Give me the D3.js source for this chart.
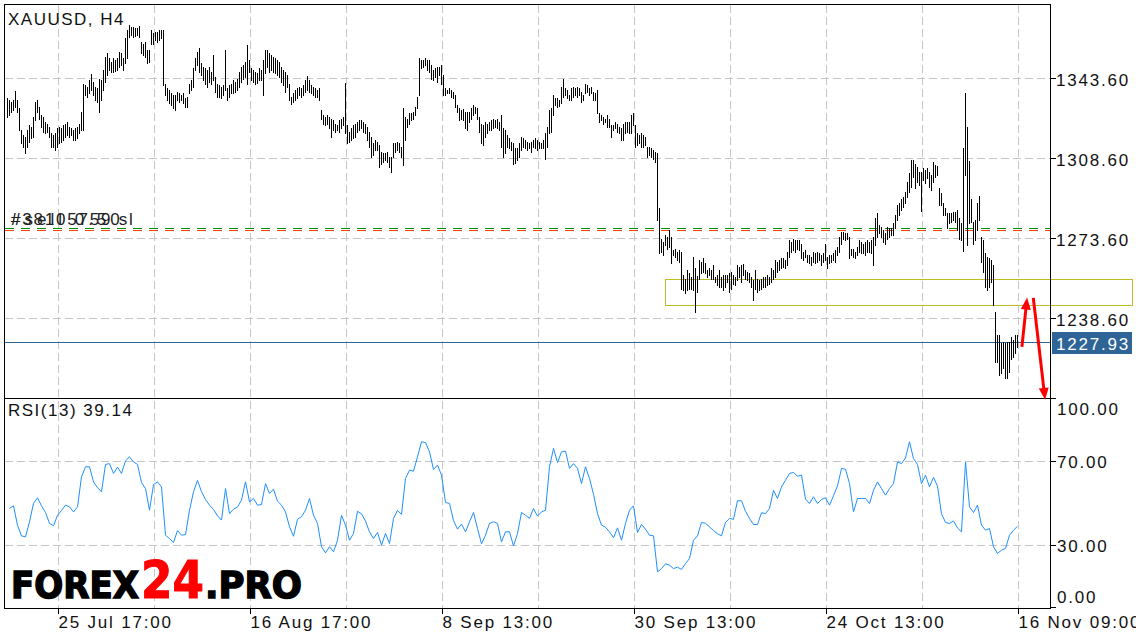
<!DOCTYPE html>
<html><head><meta charset="utf-8">
<script src="https://cdn.jsdelivr.net/npm/d3@7"></script>
<style>html,body{margin:0;padding:0;background:#fff;}svg{display:block;}</style>
</head><body><svg id="c" width="1136" height="640"></svg>
<script>
// ---- DATA (H4 bars) ----
const highs = [
1334.9,1334.2,1333.4,1334.2,1338.2,1334.2,1330.5,1321.0,1318.8,1318.1,
1321.0,1323.2,1322.5,1326.9,1333.4,1334.2,1331.2,1327.6,1326.9,1324.7,
1323.9,1322.5,1319.6,1318.8,1319.6,1321.8,1322.5,1321.8,1323.2,1323.9,
1324.7,1322.5,1321.8,1321.0,1321.8,1322.5,1323.9,1329.1,1341.4,1340.7,
1340.0,1342.9,1345.5,1342.2,1340.0,1339.3,1343.6,1342.9,1347.3,1353.1,
1354.6,1352.4,1350.9,1352.4,1351.6,1352.4,1355.3,1354.6,1352.4,1361.1,
1364.8,1367.0,1366.2,1366.2,1365.5,1365.5,1366.5,1359.7,1358.9,1359.7,
1356.0,1356.0,1364.8,1363.3,1364.0,1364.0,1364.8,1364.8,1364.8,1341.4,
1339.3,1338.5,1337.1,1336.3,1336.3,1337.8,1337.1,1336.3,1337.1,1334.9,
1335.6,1341.4,1342.9,1348.0,1352.4,1355.3,1356.8,1350.2,1348.7,1348.0,
1347.3,1348.7,1346.5,1353.8,1344.4,1341.4,1340.7,1340.0,1340.7,1356.0,
1339.3,1340.7,1341.4,1342.9,1342.2,1343.6,1346.5,1348.7,1349.5,1350.9,
1358.2,1351.6,1348.0,1347.3,1346.5,1345.8,1348.0,1347.3,1351.6,1356.0,
1356.0,1354.6,1353.8,1353.1,1352.4,1351.6,1350.9,1348.7,1347.3,1346.5,
1345.1,1341.4,1335.6,1337.1,1338.5,1339.3,1340.0,1339.3,1340.7,1342.9,
1344.6,1342.9,1340.7,1340.0,1339.3,1338.5,1339.3,1329.8,1327.6,1326.9,
1327.6,1326.9,1326.1,1325.4,1323.9,1323.2,1325.4,1326.1,1326.9,1341.7,
1323.2,1320.3,1321.8,1323.2,1323.9,1324.7,1325.4,1325.4,1324.7,1323.9,
1322.5,1320.3,1318.1,1315.2,1316.7,1315.9,
1314.5,1311.5,1310.8,1310.8,1311.5,1309.4,1309.4,1315.2,1315.2,1315.9,
1315.2,1313.7,1330.5,1326.9,1326.1,1328.3,1328.3,1329.1,1331.2,1335.6,
1352.4,1351.6,1351.6,1352.4,1351.6,1351.6,1349.5,1347.3,1348.0,1348.7,
1348.7,1349.5,1345.1,1339.3,1338.5,1339.3,1338.5,1337.8,1336.3,1332.0,
1330.5,1329.8,1330.1,1329.1,1329.1,1329.1,1330.5,1332.0,1331.2,1330.5,
1326.9,1323.9,1323.2,1324.7,1323.9,1324.7,1325.4,1326.1,1325.4,1326.1,
1324.7,1327.6,1321.8,1321.0,1318.8,1317.4,1315.9,1315.2,1313.0,1313.0,
1315.2,1318.1,1317.4,1316.7,1315.9,1315.2,1315.9,1316.7,1317.4,1316.7,
1315.9,1315.5,1316.7,1319.6,1322.5,1329.8,1330.5,1336.3,1334.9,1334.9,
1334.2,1340.0,1343.6,1339.3,1338.5,1336.3,1339.3,1340.0,1339.3,1340.0,
1339.3,1337.8,1336.3,1341.4,1340.7,1339.3,1340.0,1337.8,1337.1,1338.5,
1328.3,1327.6,1326.9,1326.1,1327.6,1326.1,1323.2,1323.2,1324.7,1323.9,
1322.5,1321.8,1323.9,1324.7,1324.7,1324.7,1327.6,1328.3,1323.2,1319.6,
1318.8,1319.6,1318.8,1318.1,1313.7,1313.7,1313.0,1312.3,1311.5,1310.8,
1286.8,1273.6,1272.2,1275.1,1274.4,1277.3,1274.4,1268.5,1269.2,1267.8,
1268.5,1267.8,1257.6,1256.1,1259.8,1258.3,1256.9,1265.6,1260.5,1257.1,
1264.2,1263.4,1264.9,1262.7,1259.8,1260.5,1259.8,1262.0,1256.9,1257.6,
1259.8,1256.9,1257.6,1257.6,1257.6,1258.3,1259.0,1257.6,1256.9,1262.0,
1261.2,1262.0,1262.4,1259.8,1259.0,1258.3,1256.9,1255.4,1259.8,1256.1,
1255.4,1256.1,1256.9,1256.6,1257.6,1256.9,1260.5,1259.8,1264.2,1263.4,
1264.2,1264.9,1264.9,1264.2,1267.8,1272.9,1272.2,1273.6,1272.9,1272.9,
1272.9,1271.4,1267.8,1268.5,1266.3,1266.3,1265.6,1267.8,1267.4,1267.8,
1267.1,1266.3,1267.1,1271.4,1265.6,1266.3,1266.3,1267.1,1268.5,1270.0,
1274.4,1276.5,1276.5,1275.8,1275.8,1274.4,1269.2,1269.2,1267.8,1270.0,
1272.9,1272.2,1271.4,1272.2,1272.9,1272.2,1272.9,1274.4,1282.4,1284.6,
1279.5,1278.7,1277.3,1275.8,1278.7,1278.0,1278.0,1280.2,1283.8,1288.2,
1289.0,1291.1,1291.9,1294.1,1298.4,1302.1,1307.9,1307.9,1306.4,1305.0,
1302.8,1302.8,1304.3,1303.5,1304.3,1302.8,1301.3,1307.2,1305.7,1305.4,
1295.5,1293.3,1289.0,1286.8,1284.6,1284.6,1284.6,1285.3,1285.3,1286.0,
1282.4,1280.2,1313.3,1337.4,1322.5,1307.6,1290.7,1280.9,1281.6,1289.0,
1292.1,1274.4,1272.9,1267.1,1265.6,1264.9,1264.2,1262.0,1241.5,1231.3,
1231.3,1227.7,1228.4,1227.7,1228.4,1228.4,1230.6,1229.1,1231.3,1231.3
];
const lows = [
1326.9,1327.6,1329.1,1329.8,1331.2,1329.1,1321.0,1315.2,1313.7,1310.8,
1313.7,1315.9,1317.4,1318.1,1325.4,1329.1,1326.1,1322.5,1320.3,1319.6,
1320.3,1318.1,1313.7,1313.7,1312.3,1313.7,1315.2,1315.9,1316.7,1318.1,
1318.8,1318.1,1318.8,1316.7,1316.7,1317.4,1319.6,1321.0,1321.0,1336.3,
1335.6,1337.1,1338.5,1336.3,1334.2,1333.4,1329.1,1334.2,1338.5,1342.2,
1345.1,1347.3,1346.5,1346.5,1347.0,1347.3,1348.7,1349.5,1347.3,1350.2,
1352.4,1361.9,1362.6,1361.9,1362.2,1362.6,1361.9,1354.6,1353.8,1353.1,
1350.2,1350.9,1358.9,1358.9,1360.4,1359.7,1360.4,1361.1,1340.7,1336.3,
1334.2,1332.7,1332.0,1330.5,1329.8,1334.2,1333.4,1334.2,1332.7,1331.2,
1331.2,1337.1,1338.5,1340.0,1347.3,1349.5,1346.5,1345.1,1342.9,1341.4,
1340.0,1342.2,1341.4,1342.9,1337.8,1335.6,1335.6,1334.9,1336.3,1338.5,
1334.2,1335.6,1337.1,1337.1,1337.8,1338.5,1340.0,1342.2,1343.6,1344.4,
1341.4,1346.5,1342.9,1342.2,1341.4,1341.7,1342.9,1342.9,1336.3,1345.8,
1348.7,1346.5,1347.3,1346.5,1345.8,1345.1,1344.4,1342.2,1340.7,1337.8,
1340.0,1334.2,1332.4,1333.4,1334.2,1334.9,1336.3,1335.6,1336.3,1337.8,
1338.5,1337.8,1337.1,1336.3,1335.6,1335.6,1334.2,1326.1,1323.9,1323.2,
1323.9,1321.8,1318.1,1321.0,1320.3,1321.0,1320.3,1321.8,1323.2,1319.6,
1315.2,1315.9,1316.7,1317.4,1318.1,1320.3,1321.0,1321.8,1320.3,1319.6,
1316.7,1313.7,1309.4,1310.1,1312.3,1312.3,
1305.0,1306.4,1307.2,1307.9,1307.2,1305.0,1302.8,1309.4,1311.5,1312.3,
1311.5,1309.4,1305.7,1316.7,1322.5,1323.9,1325.4,1326.1,1327.6,1330.5,
1336.3,1348.0,1348.7,1349.5,1347.3,1346.5,1343.6,1342.9,1344.4,1342.2,
1345.1,1341.4,1336.3,1336.3,1337.1,1337.1,1335.6,1334.9,1331.2,1329.1,
1325.4,1326.1,1325.4,1321.8,1321.0,1324.7,1326.1,1327.6,1328.3,1326.1,
1320.3,1315.2,1314.5,1318.1,1319.6,1321.0,1321.0,1321.8,1322.5,1321.8,
1321.0,1313.7,1309.4,1310.8,1313.7,1313.0,1312.3,1306.4,1306.7,1307.9,
1309.4,1312.3,1313.7,1313.0,1312.3,1313.0,1311.5,1313.7,1313.0,1312.3,
1313.0,1313.4,1313.0,1308.2,1313.7,1319.6,1320.3,1327.6,1332.0,1331.2,
1331.5,1332.7,1335.6,1336.3,1334.9,1334.2,1334.2,1335.6,1336.3,1335.6,
1336.3,1333.4,1334.2,1337.1,1337.8,1336.3,1337.1,1334.2,1334.2,1328.3,
1324.7,1325.4,1323.9,1324.7,1322.5,1322.5,1318.1,1321.0,1321.8,1320.3,
1319.6,1316.7,1316.7,1319.6,1320.3,1319.6,1319.6,1323.2,1313.7,1314.5,
1315.2,1313.7,1313.7,1314.5,1309.4,1310.1,1309.4,1308.6,1307.2,1281.6,
1267.1,1267.8,1266.3,1270.7,1269.2,1270.0,1262.7,1266.3,1265.6,1264.2,
1263.4,1251.7,1251.0,1249.6,1251.0,1251.7,1251.7,1251.0,1241.5,1250.3,
1256.1,1258.3,1259.0,1258.3,1256.9,1257.6,1256.1,1256.1,1254.7,1253.2,
1252.5,1252.5,1251.0,1252.5,1254.7,1250.3,1251.7,1253.9,1253.2,1255.4,
1256.9,1254.7,1257.6,1256.1,1255.4,1254.7,1252.5,1246.6,1251.7,1250.3,
1251.0,1251.7,1252.5,1252.5,1253.2,1253.9,1254.7,1256.1,1256.9,1259.0,
1259.8,1260.5,1261.2,1260.5,1262.0,1265.6,1267.8,1268.5,1267.8,1269.2,
1268.5,1264.9,1264.2,1265.6,1263.4,1262.7,1262.0,1263.4,1262.7,1263.4,
1264.2,1262.0,1263.4,1264.2,1260.5,1262.7,1263.4,1264.2,1263.4,1266.3,
1267.8,1271.4,1273.6,1272.9,1273.6,1264.9,1266.3,1265.6,1264.9,1266.3,
1267.8,1267.1,1267.1,1266.3,1267.8,1267.8,1267.1,1262.0,1270.7,1274.4,
1275.8,1274.4,1272.2,1271.4,1273.6,1274.4,1275.1,1275.1,1278.0,1281.6,
1283.8,1286.0,1287.5,1289.0,1291.9,1294.1,1296.2,1300.6,1295.5,1298.4,
1297.0,1285.7,1299.2,1297.7,1299.9,1296.2,1294.8,1298.4,1300.6,1301.3,
1288.2,1288.2,1283.8,1283.8,1278.0,1280.2,1280.9,1281.6,1280.9,1277.3,
1273.6,1272.9,1268.2,1301.6,1270.7,1280.2,1280.9,1271.4,1272.9,1277.3,
1281.6,1263.4,1259.0,1252.5,1251.0,1252.5,1254.7,1244.5,1219.7,1219.7,
1213.8,1214.6,1216.8,1212.4,1212.4,1215.3,1221.1,1221.9,1223.3,1226.2
];
// RSI(13) read at every odd bar index (1,3,...,505)
const rsiValues = [
47.6,48.9,39.7,34.6,34.1,41.3,50.0,52.7,48.9,45.7,
40.5,39.4,44.4,46.7,49.2,48.4,46.0,48.4,62.7,67.5,
67.5,60.3,57.5,55.6,68.6,69.0,64.3,67.3,64.3,70.3,
72.2,69.8,68.6,60.0,57.1,46.8,59.0,60.3,57.9,34.9,
33.3,31.4,37.1,34.9,35.2,46.8,55.6,61.0,55.6,51.9,
49.2,47.1,44.1,42.1,57.1,45.2,47.3,48.3,51.6,60.3,
50.8,52.4,49.2,49.5,59.5,54.8,56.8,51.1,49.2,46.0,
38.9,34.4,42.5,43.7,46.8,52.4,44.4,40.5,29.4,26.5,
29.4,27.0,32.5,44.4,39.7,32.5,35.7,46.3,45.1,41.6,
36.5,33.3,36.2,
30.2,35.7,31.0,42.9,46.7,44.8,61.9,65.9,65.4,72.2,
79.4,79.0,74.6,66.2,68.3,63.5,50.5,50.0,41.9,37.8,
40.2,36.5,41.3,45.7,38.1,30.8,34.9,40.5,41.3,40.5,
31.7,36.5,36.5,29.8,35.7,45.7,44.4,42.9,47.6,44.0,
46.0,46.8,67.5,76.2,69.5,74.6,74.9,66.7,69.0,66.7,
59.5,67.5,61.9,54.4,45.2,39.7,38.7,36.5,33.7,38.4,
32.5,40.5,46.8,48.9,36.2,40.0,37.8,34.9,34.6,17.5,
19.0,21.3,20.6,19.0,19.7,18.6,21.4,23.8,32.5,34.6,
41.0,40.5,38.9,37.1,35.6,34.6,41.0,42.9,42.5,51.3,
51.3,46.3,42.9,40.0,40.0,
45.6,45.2,47.6,56.3,52.4,57.9,61.1,64.3,64.8,63.0,
63.5,52.1,50.0,53.2,50.0,51.9,52.7,49.2,53.7,58.4,
66.7,66.3,59.5,46.0,52.4,52.4,52.4,50.0,56.3,60.3,
57.1,54.0,57.1,59.5,69.8,69.0,71.7,79.4,71.4,68.6,
59.5,63.5,57.9,62.4,58.3,45.1,41.0,40.5,41.7,38.4,
36.5,69.8,48.4,45.7,49.2,39.7,37.3,38.1,29.4,26.2,
27.8,28.6,34.9,37.3,39.14
];
const priceTicks = [1343.60, 1308.60, 1273.60, 1238.60];
const rsiTicks = [100, 70, 30, 0];
const rsiGrid = [70, 30];
const timeLabels = ["25 Jul 17:00", "16 Aug 17:00", "8 Sep 13:00", "30 Sep 13:00", "24 Oct 13:00", "16 Nov 09:00"];
const timeLabelBars = [25, 121, 217, 313, 409, 505];
const gridBars = [25, 73, 121, 169, 217, 265, 313, 361, 409, 457, 505];
const lastPrice = 1227.93;
const tpLevel = 1277.9;   // green dashed
const slLevel = 1277.2;   // orange dashed
const zoneTop = 1255.7, zoneBottom = 1244.3, zoneFrom = 328.75, zoneTo = 562;
const arrowUp = [[507.2, 1226.2], [509.8, 1247.8]];
const arrowDown = [[512.9, 1247.6], [518.8, 1203.0]];

// ---- LAYOUT ----
const L = 4.5, R = 1050.5, T = 4.5, MID = 398.5, B = 608.5;
const svg = d3.select("#c");
const x = d3.scaleLinear().domain([0, 505]).range([7.5, 1017.5]);
const y = d3.scaleLinear().domain([1238.6, 1343.6]).range([318.5, 78.5]);
const yr = d3.scaleLinear().domain([0, 100]).range([608.5, 398.5]);
const FONT = "'Liberation Sans', Arial, sans-serif";
const gridCol = "#c6c6c6";

svg.append("rect").attr("width", 1136).attr("height", 640).attr("fill", "#fff");

// grid
const g = svg.append("g").attr("shape-rendering", "crispEdges")
  .attr("stroke", gridCol).attr("stroke-width", 1).attr("stroke-dasharray", "8,4");
g.selectAll(".vg").data(gridBars).join("line")
  .attr("x1", d => x(d) + 1).attr("x2", d => x(d) + 1).attr("y1", T).attr("y2", B);
g.selectAll(".hg").data(priceTicks).join("line")
  .attr("x1", L).attr("x2", R).attr("y1", d => y(d)).attr("y2", d => y(d));
g.selectAll(".rg").data(rsiGrid).join("line")
  .attr("x1", L).attr("x2", R).attr("y1", d => yr(d)).attr("y2", d => yr(d));

// order level lines
svg.append("line").attr("x1", L).attr("x2", R).attr("y1", y(tpLevel)).attr("y2", y(tpLevel))
  .attr("stroke", "#008c00").attr("stroke-width", 1).attr("stroke-dasharray", "9,7").attr("shape-rendering", "crispEdges");
svg.append("line").attr("x1", L).attr("x2", R).attr("y1", y(slLevel)).attr("y2", y(slLevel))
  .attr("stroke", "#ff4500").attr("stroke-width", 1).attr("stroke-dasharray", "9,7").attr("shape-rendering", "crispEdges");

// last price line
svg.append("line").attr("x1", L).attr("x2", R).attr("y1", y(lastPrice)).attr("y2", y(lastPrice))
  .attr("stroke", "#2e6496").attr("stroke-width", 1).attr("shape-rendering", "crispEdges");

// zone rectangle
svg.append("rect").attr("x", Math.round(x(zoneFrom)) + 0.5).attr("y", Math.round(y(zoneTop)) + 0.5)
  .attr("width", Math.round(x(zoneTo) - x(zoneFrom))).attr("height", Math.round(y(zoneBottom) - y(zoneTop)))
  .attr("fill", "none").attr("stroke", "#bebe1e").attr("stroke-width", 1);

// bars
svg.append("g").attr("shape-rendering", "crispEdges").attr("stroke", "#000").attr("stroke-width", 1)
  .selectAll("line").data(highs.map((h, i) => ({i, h, l: lows[i]}))).join("line")
  .attr("x1", d => x(d.i)).attr("x2", d => x(d.i))
  .attr("y1", d => Math.round(y(d.h))).attr("y2", d => Math.round(y(d.l)) + 1);

// RSI line
const rsiPts = rsiValues.map((v, k) => [x(2 * k + 1), yr(v)]);
svg.append("path").attr("d", d3.line()(rsiPts)).attr("fill", "none")
  .attr("stroke", "#1e90ff").attr("stroke-width", 1);

// frame
const fr = svg.append("g").attr("stroke", "#000").attr("stroke-width", 1).attr("shape-rendering", "crispEdges");
fr.append("rect").attr("x", L).attr("y", T).attr("width", R - L).attr("height", B - T).attr("fill", "none");
fr.append("line").attr("x1", L).attr("x2", R).attr("y1", MID).attr("y2", MID);
// axis ticks
fr.selectAll(".pt").data(priceTicks).join("line").attr("x1", R).attr("x2", R + 5).attr("y1", d => y(d)).attr("y2", d => y(d));
fr.selectAll(".rt").data(rsiTicks).join("line").attr("x1", R).attr("x2", R + 5)
  .attr("y1", d => d === 100 ? MID : d === 0 ? B - 1 : yr(d)).attr("y2", d => d === 100 ? MID : d === 0 ? B - 1 : yr(d));
fr.selectAll(".tt").data(timeLabelBars).join("line").attr("x1", d => x(d) + 1).attr("x2", d => x(d) + 1).attr("y1", B).attr("y2", B + 5);

// text
const txt = (s, tx, ty, opts = {}) => svg.append("text").attr("x", tx).attr("y", ty).text(s)
  .attr("font-family", FONT).attr("font-size", opts.size || 17).attr("letter-spacing", opts.ls !== undefined ? opts.ls : 1.8)
  .attr("fill", opts.fill || "#111");

txt("XAUUSD, H4", 8, 25, {ls: 1.5});
txt("RSI(13) " + rsiValues[rsiValues.length - 1].toFixed(2), 8, 416, {ls: 1.5});
priceTicks.forEach(p => txt(p.toFixed(2), 1056, y(p) + 7));
const rsiLabelY = {100: 415, 70: yr(70) + 6, 30: yr(30) + 6, 0: 602.5};
rsiTicks.forEach(v => txt(v.toFixed(2), 1057, rsiLabelY[v]));
timeLabels.forEach((s, k) => txt(s, x(timeLabelBars[k]) + 1, 628));

// last price tag
svg.append("rect").attr("x", 1052).attr("y", Math.round(y(lastPrice)) - 11).attr("width", 80).attr("height", 22).attr("fill", "#2e6496");
txt(lastPrice.toFixed(2), 1056, Math.round(y(lastPrice)) + 7, {fill: "#fff"});

// order labels (overlapping, as in the original)
txt("#sell 0.50", 11, 225, {ls: 4, fill: "#222"});
txt("#38105759 sl", 11, 225, {fill: "#222"});

// arrows
function arrow(pts) {
  const [p0, p1] = pts.map(([i, p]) => [x(i), y(p)]);
  const dx = p1[0] - p0[0], dy = p1[1] - p0[1], len = Math.hypot(dx, dy);
  const ux = dx / len, uy = dy / len, hl = 12, hw = 5;
  const bx = p1[0] - ux * hl, by = p1[1] - uy * hl;
  svg.append("line").attr("x1", p0[0]).attr("y1", p0[1]).attr("x2", bx + ux).attr("y2", by + uy)
    .attr("stroke", "#ff0000").attr("stroke-width", 3);
  svg.append("path").attr("d", `M${p1[0]},${p1[1]}L${bx - uy * hw},${by + ux * hw}L${bx + uy * hw},${by - ux * hw}Z`)
    .attr("fill", "#ff0000");
}
arrow(arrowUp);
arrow(arrowDown);

// logo
const logo = svg.append("g").attr("font-family", "'DejaVu Sans', sans-serif").attr("font-weight", 900);
logo.append("text").attr("x", 11).attr("y", 598).attr("font-size", 37).attr("textLength", 128).attr("lengthAdjust", "spacingAndGlyphs")
  .attr("fill", "#000").attr("stroke", "#000").attr("stroke-width", 1.5).text("FOREX");
logo.append("text").attr("x", 141).attr("y", 598).attr("font-size", 51).attr("textLength", 63).attr("lengthAdjust", "spacingAndGlyphs")
  .attr("fill", "#ff0000").attr("stroke", "#ff0000").attr("stroke-width", 1).text("24");
logo.append("text").attr("x", 205).attr("y", 598).attr("font-size", 37).attr("textLength", 97).attr("lengthAdjust", "spacingAndGlyphs")
  .attr("fill", "#000").attr("stroke", "#000").attr("stroke-width", 1.5).text(".PRO");
</script></body></html>
